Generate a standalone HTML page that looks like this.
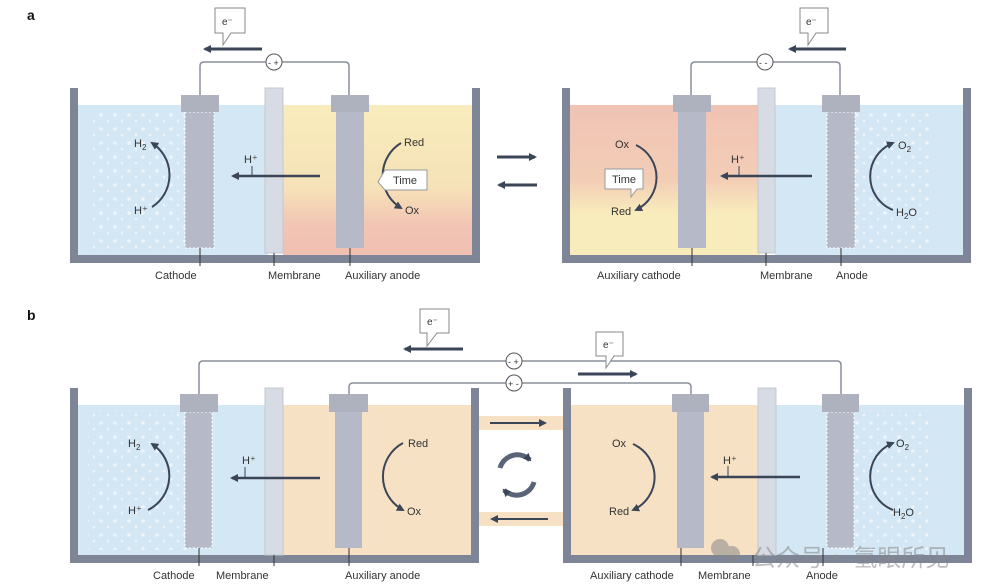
<!DOCTYPE html>
<html><head><meta charset="utf-8"><style>
html,body{margin:0;padding:0;background:#fff;}
svg{display:block;font-family:"Liberation Sans","Noto Sans CJK SC",sans-serif;}
</style></head><body>
<svg width="1005" height="586" viewBox="0 0 1005 586" xmlns="http://www.w3.org/2000/svg">
<defs>
<linearGradient id="yp" x1="0" y1="0" x2="0" y2="1">
<stop offset="0" stop-color="#f8ecbc"/><stop offset="0.55" stop-color="#f6e2b8"/><stop offset="0.8" stop-color="#f2c5b4"/><stop offset="1" stop-color="#f0c0b2"/></linearGradient>
<linearGradient id="py" x1="0" y1="0" x2="0" y2="1">
<stop offset="0" stop-color="#f0c3b4"/><stop offset="0.5" stop-color="#f3cdb6"/><stop offset="0.72" stop-color="#f8ebbc"/><stop offset="1" stop-color="#f8ecbc"/></linearGradient>
<marker id="ah" markerWidth="8" markerHeight="8" refX="6" refY="4" orient="auto" markerUnits="userSpaceOnUse"><path d="M0,0 L8,4 L0,8 z" fill="#3a4558"/></marker>
<pattern id="bub" width="14" height="14" patternUnits="userSpaceOnUse"><circle cx="3" cy="3" r="1.8" fill="#fff"/><circle cx="10" cy="9" r="1.3" fill="#fff"/></pattern>
</defs>
<g font-size="11" fill="#333">
<text x="27" y="20" font-weight="bold" font-size="14" fill="#111">a</text>
<text x="27" y="320" font-weight="bold" font-size="14" fill="#111">b</text>

<!-- ===== PANEL A LEFT ===== -->
<rect x="78" y="105" width="190" height="150" fill="#d3e7f5"/>
<rect x="283" y="105" width="190" height="150" fill="url(#yp)"/>
<rect x="90" y="110" width="100" height="140" fill="url(#bub)" opacity="0.6"/>
<path d="M70,88 h8 v167 h394 v-167 h8 v175 h-410z" fill="#7d8597"/>
<rect x="265" y="88" width="18" height="165" fill="#d7dbe3" stroke="#c3c8d2"/>
<rect x="185" y="112" width="29" height="136" fill="#b5b9c8" stroke="#fff" stroke-dasharray="2 2"/>
<rect x="181" y="95" width="38" height="17" fill="#aeb2bf"/>
<rect x="336" y="112" width="28" height="136" fill="#b5b9c8"/>
<rect x="331" y="95" width="38" height="17" fill="#aeb2bf"/>
<path d="M200,95 V66 q0,-4 4,-4 H345 q4,0 4,4 V95" fill="none" stroke="#8a8f9a" stroke-width="1.5"/>
<circle cx="274" cy="62" r="8" fill="#fff" stroke="#555"/><text x="268" y="66" font-size="9">- +</text>
<line x1="262" y1="49" x2="205" y2="49" stroke="#3a4558" stroke-width="3" marker-end="url(#ah)"/>
<path d="M215,8 h30 v25 h-14 l-8,12 v-12 h-8z" fill="#fff" stroke="#888"/><text x="222" y="25" font-size="10">e⁻</text>
<line x1="320" y1="176" x2="233" y2="176" stroke="#3a4558" stroke-width="2.5" marker-end="url(#ah)"/>
<text x="244" y="163">H⁺</text><line x1="252" y1="166" x2="252" y2="176" stroke="#3a4558"/>
<path d="M152,207 A38,38 0 0,0 152,143" fill="none" stroke="#3a4558" stroke-width="2" marker-end="url(#ah)"/>
<text x="134" y="147">H<tspan font-size="8" dy="3">2</tspan></text><text x="134" y="214">H⁺</text>
<path d="M401,143 A38,38 0 0,0 401,208" fill="none" stroke="#3a4558" stroke-width="2" marker-end="url(#ah)"/>
<text x="404" y="146">Red</text><text x="405" y="214">Ox</text>
<path d="M385,170 h42 v20 h-42 l-7,-8z" fill="#fff" stroke="#999"/><text x="393" y="184">Time</text>
<line x1="200" y1="248" x2="200" y2="266" stroke="#333"/><line x1="274" y1="253" x2="274" y2="266" stroke="#333"/><line x1="350" y1="248" x2="350" y2="266" stroke="#333"/>
<text x="155" y="279">Cathode</text><text x="268" y="279">Membrane</text><text x="345" y="279">Auxiliary anode</text>

<line x1="497" y1="157" x2="535" y2="157" stroke="#3a4558" stroke-width="3" marker-end="url(#ah)"/>
<line x1="537" y1="185" x2="499" y2="185" stroke="#3a4558" stroke-width="3" marker-end="url(#ah)"/>

<!-- ===== PANEL A RIGHT ===== -->
<rect x="570" y="105" width="190" height="150" fill="url(#py)"/>
<rect x="775" y="105" width="188" height="150" fill="#d3e7f5"/>
<rect x="840" y="110" width="90" height="140" fill="url(#bub)" opacity="0.6"/>
<path d="M562,88 h8 v167 h393 v-167 h8 v175 h-409z" fill="#7d8597"/>
<rect x="758" y="88" width="17" height="165" fill="#d7dbe3" stroke="#c3c8d2"/>
<rect x="678" y="112" width="28" height="136" fill="#b5b9c8"/>
<rect x="673" y="95" width="38" height="17" fill="#aeb2bf"/>
<rect x="827" y="112" width="28" height="136" fill="#b5b9c8" stroke="#fff" stroke-dasharray="2 2"/>
<rect x="822" y="95" width="38" height="17" fill="#aeb2bf"/>
<path d="M691,95 V66 q0,-4 4,-4 H836 q4,0 4,4 V95" fill="none" stroke="#8a8f9a" stroke-width="1.5"/>
<circle cx="765" cy="62" r="8" fill="#fff" stroke="#555"/><text x="759" y="66" font-size="9">- -</text>
<line x1="846" y1="49" x2="790" y2="49" stroke="#3a4558" stroke-width="3" marker-end="url(#ah)"/>
<path d="M800,8 h28 v25 h-12 l-8,12 v-12 h-8z" fill="#fff" stroke="#888"/><text x="806" y="25" font-size="10">e⁻</text>
<line x1="812" y1="176" x2="722" y2="176" stroke="#3a4558" stroke-width="2.5" marker-end="url(#ah)"/>
<text x="731" y="163">H⁺</text><line x1="739" y1="166" x2="739" y2="176" stroke="#3a4558"/>
<path d="M636,145 A36,36 0 0,1 636,210" fill="none" stroke="#3a4558" stroke-width="2" marker-end="url(#ah)"/>
<text x="615" y="148">Ox</text><text x="611" y="215">Red</text>
<path d="M605,169 h38 v20 h-6 l-6,8 v-8 h-26z" fill="#fff" stroke="#999"/><text x="612" y="183">Time</text>
<path d="M893,210 A36,36 0 0,1 893,143" fill="none" stroke="#3a4558" stroke-width="2" marker-end="url(#ah)"/>
<text x="898" y="149">O<tspan font-size="8" dy="3">2</tspan></text><text x="896" y="216">H<tspan font-size="8" dy="3">2</tspan><tspan dy="-3">O</tspan></text>
<line x1="692" y1="248" x2="692" y2="266" stroke="#333"/><line x1="766" y1="253" x2="766" y2="266" stroke="#333"/><line x1="841" y1="248" x2="841" y2="266" stroke="#333"/>
<text x="597" y="279">Auxiliary cathode</text><text x="760" y="279">Membrane</text><text x="836" y="279">Anode</text>

<!-- ===== PANEL B ===== -->
<rect x="478" y="416" width="86" height="14" fill="#f6e1c4"/>
<rect x="478" y="512" width="86" height="14" fill="#f6e1c4"/>
<line x1="490" y1="423" x2="545" y2="423" stroke="#3a4558" stroke-width="2" marker-end="url(#ah)"/>
<line x1="548" y1="519" x2="492" y2="519" stroke="#3a4558" stroke-width="2" marker-end="url(#ah)"/>
<path d="M500,468 A18,18 0 0,1 530,460" fill="none" stroke="#5a6478" stroke-width="5" marker-end="url(#ah)"/>
<path d="M534,482 A18,18 0 0,1 504,490" fill="none" stroke="#5a6478" stroke-width="5" marker-end="url(#ah)"/>

<rect x="78" y="405" width="190" height="150" fill="#d3e7f5"/>
<rect x="283" y="405" width="190" height="150" fill="#f6e1c4"/>
<rect x="88" y="410" width="110" height="140" fill="url(#bub)" opacity="0.6"/>
<path d="M70,388 h8 v167 h393 v-167 h8 v175 h-409z" fill="#7d8597"/>
<rect x="265" y="388" width="18" height="167" fill="#d7dbe3" stroke="#c3c8d2"/>
<rect x="185" y="412" width="27" height="136" fill="#b5b9c8" stroke="#fff" stroke-dasharray="2 2"/>
<rect x="180" y="394" width="38" height="18" fill="#aeb2bf"/>
<rect x="335" y="412" width="27" height="136" fill="#b5b9c8"/>
<rect x="329" y="394" width="39" height="18" fill="#aeb2bf"/>

<rect x="571" y="405" width="190" height="150" fill="#f6e1c4"/>
<rect x="775" y="405" width="190" height="150" fill="#d3e7f5"/>
<rect x="838" y="410" width="90" height="140" fill="url(#bub)" opacity="0.6"/>
<path d="M563,388 h8 v167 h393 v-167 h8 v175 h-409z" fill="#7d8597"/>
<rect x="758" y="388" width="18" height="167" fill="#d7dbe3" stroke="#c3c8d2"/>
<rect x="677" y="412" width="27" height="136" fill="#b5b9c8"/>
<rect x="672" y="394" width="37" height="18" fill="#aeb2bf"/>
<rect x="827" y="412" width="27" height="136" fill="#b5b9c8" stroke="#fff" stroke-dasharray="2 2"/>
<rect x="822" y="394" width="37" height="18" fill="#aeb2bf"/>

<path d="M199,394 V365 q0,-4 4,-4 H837 q4,0 4,4 V394" fill="none" stroke="#8a8f9a" stroke-width="1.5"/>
<path d="M349,394 V387 q0,-4 4,-4 H687 q4,0 4,4 V394" fill="none" stroke="#8a8f9a" stroke-width="1.5"/>
<circle cx="514" cy="361" r="8" fill="#fff" stroke="#555"/><text x="508" y="365" font-size="9">- +</text>
<circle cx="514" cy="383" r="8" fill="#fff" stroke="#555"/><text x="508" y="387" font-size="9">+ -</text>
<line x1="463" y1="349" x2="405" y2="349" stroke="#3a4558" stroke-width="3" marker-end="url(#ah)"/>
<path d="M420,309 h29 v24 h-12 l-10,13 v-13 h-7z" fill="#fff" stroke="#888"/><text x="427" y="325" font-size="10">e⁻</text>
<line x1="578" y1="374" x2="636" y2="374" stroke="#3a4558" stroke-width="3" marker-end="url(#ah)"/>
<path d="M596,332 h27 v24 h-9 l-8,12 v-12 h-10z" fill="#fff" stroke="#888"/><text x="603" y="348" font-size="10">e⁻</text>

<line x1="320" y1="478" x2="232" y2="478" stroke="#3a4558" stroke-width="2.5" marker-end="url(#ah)"/>
<text x="242" y="464">H⁺</text><line x1="245" y1="467" x2="245" y2="478" stroke="#3a4558"/>
<path d="M148,510 A38,38 0 0,0 152,444" fill="none" stroke="#3a4558" stroke-width="2" marker-end="url(#ah)"/>
<text x="128" y="447">H<tspan font-size="8" dy="3">2</tspan></text><text x="128" y="514">H⁺</text>
<path d="M403,443 A38,38 0 0,0 403,510" fill="none" stroke="#3a4558" stroke-width="2" marker-end="url(#ah)"/>
<text x="408" y="447">Red</text><text x="407" y="515">Ox</text>

<line x1="800" y1="477" x2="712" y2="477" stroke="#3a4558" stroke-width="2.5" marker-end="url(#ah)"/>
<text x="723" y="464">H⁺</text><line x1="728" y1="466" x2="728" y2="477" stroke="#3a4558"/>
<path d="M633,444 A36,36 0 0,1 633,510" fill="none" stroke="#3a4558" stroke-width="2" marker-end="url(#ah)"/>
<text x="612" y="447">Ox</text><text x="609" y="515">Red</text>
<path d="M893,510 A36,36 0 0,1 893,443" fill="none" stroke="#3a4558" stroke-width="2" marker-end="url(#ah)"/>
<text x="896" y="447">O<tspan font-size="8" dy="3">2</tspan></text><text x="893" y="516">H<tspan font-size="8" dy="3">2</tspan><tspan dy="-3">O</tspan></text>

<line x1="199" y1="548" x2="199" y2="566" stroke="#333"/><line x1="274" y1="555" x2="274" y2="566" stroke="#333"/><line x1="349" y1="548" x2="349" y2="566" stroke="#333"/>
<line x1="681" y1="548" x2="681" y2="566" stroke="#333"/><line x1="753" y1="555" x2="753" y2="566" stroke="#333"/><line x1="823" y1="548" x2="823" y2="566" stroke="#333"/>
<text x="153" y="579">Cathode</text><text x="216" y="579">Membrane</text><text x="345" y="579">Auxiliary anode</text>
<text x="590" y="579">Auxiliary cathode</text><text x="698" y="579">Membrane</text><text x="806" y="579">Anode</text>
<g opacity="0.55" fill="#888"><circle cx="720" cy="548" r="9"/><circle cx="732" cy="554" r="8"/>
<text x="752" y="566" font-size="24" font-family="'Noto Sans CJK SC',sans-serif">公众号· 氢眼所见</text></g>
</g>
</svg>
</body></html>
